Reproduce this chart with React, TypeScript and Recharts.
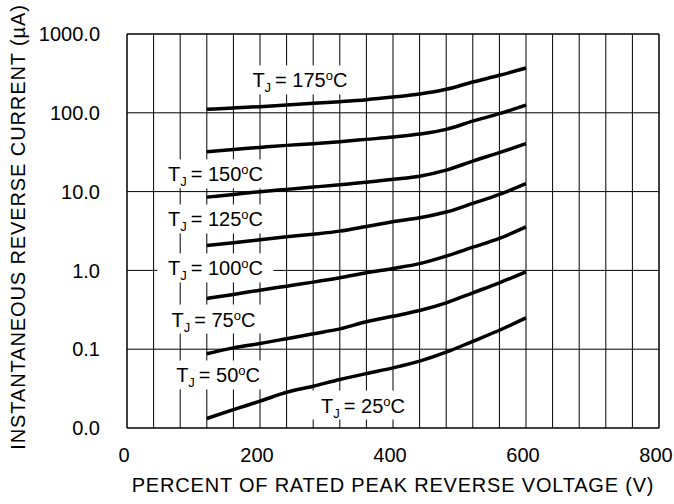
import { LineChart, Line, XAxis, YAxis, CartesianGrid, ReferenceLine, ReferenceDot } from "recharts";

const VOLTS = [120, 160, 200, 240, 280, 320, 360, 400, 440, 480, 520, 560, 600];

const T175 = [110.7, 114.9, 119.7, 125.4, 131.8, 138.6, 146.9, 158.5, 173, 198.6, 245.7, 299, 370];
const T150 = [32.1, 34.3, 36.4, 38.6, 40.6, 43, 46, 49.2, 53.7, 61.6, 78.5, 97.5, 125.4];
const T125 = [8.51, 9.21, 9.97, 10.67, 11.4, 12.2, 13.1, 14.3, 15.7, 18.7, 24.4, 31.2, 40.6];
const T100 = [2.07, 2.24, 2.45, 2.67, 2.88, 3.15, 3.61, 4.15, 4.66, 5.5, 7.08, 9.2, 12.6];
const T75 = [0.44, 0.495, 0.561, 0.631, 0.71, 0.807, 0.933, 1.06, 1.22, 1.52, 1.97, 2.55, 3.56];
const T50 = [0.0875, 0.104, 0.118, 0.136, 0.157, 0.181, 0.223, 0.262, 0.31, 0.388, 0.52, 0.697, 0.96];
const T25 = [0.0132, 0.0171, 0.0219, 0.0284, 0.0339, 0.0412, 0.0491, 0.058, 0.0705, 0.0916, 0.126, 0.174, 0.25];

const SERIES = ["t175", "t150", "t125", "t100", "t75", "t50", "t25"];

const X_MAX = 800;
const X_TICKS = [0, 200, 400, 600, 800];
const X_GRID = [0, 40, 80, 120, 160, 200, 240, 280, 320, 360, 400, 440, 480, 520, 560, 600, 640, 680, 720, 760, 800];
const Y_TICKS = [0.01, 0.1, 1, 10, 100, 1000];
const Y_TICK_LABELS = ["0.0", "0.1", "1.0", "10.0", "100.0", "1000.0"];

// curve labels: temperature, anchor (text centre / baseline) in data units
const LABEL_TEMPS = ["175", "150", "125", "100", "75", "50", "25"];
const LABEL_X = [260, 133, 133, 133, 130, 137, 355];
const LABEL_Y = [210, 13.5, 3.61, 0.863, 0.194, 0.0378, 0.0157];

const data = VOLTS.map((v, i) => ({
  v,
  t175: T175[i],
  t150: T150[i],
  t125: T125[i],
  t100: T100[i],
  t75: T75[i],
  t50: T50[i],
  t25: T25[i],
}));

const FONT = "'Liberation Sans', Arial, Helvetica, sans-serif";

const TempLabel = ({ cx, cy, temp }: { cx: number; cy: number; temp: string }) => {
  const w = temp.length === 3 ? 100 : 87;
  return (
    <g>
      <rect x={cx - w / 2 - 8} y={cy - 22} width={w + 16} height={29} fill="#fff" />
      <text x={cx} y={cy} textAnchor="middle" fontSize={20} fontFamily={FONT} fill="#000">
        <tspan>T</tspan>
        <tspan fontSize={13} dy={5}>J</tspan>
        <tspan dy={-5}>{"\u2009= " + temp}</tspan>
        <tspan fontSize={13} dy={-7}>o</tspan>
        <tspan dy={7}>C</tspan>
      </text>
    </g>
  );
};

const App = () => {
  return (
    <div style={{ position: "absolute", left: 0, top: 0, width: 674, height: 504, background: "#fff" }}>
      <LineChart width={674} height={504} data={data} margin={{ top: 34, right: 15, bottom: 0, left: 0 }}>
        <CartesianGrid
          stroke="#000"
          strokeWidth={1}
          verticalCoordinatesGenerator={(p: any) =>
            X_GRID.map((v) => p.offset.left + (v / X_MAX) * p.offset.width)
          }
        />
        <XAxis
          dataKey="v"
          type="number"
          domain={[0, X_MAX]}
          ticks={X_TICKS}
          height={76}
          tickLine={false}
          tickSize={0}
          tickMargin={20}
          axisLine={{ stroke: "#000" }}
          tick={{ fontSize: 20, fill: "#000", fontFamily: FONT, dx: -3 }}
          label={{
            value: "PERCENT OF RATED PEAK REVERSE VOLTAGE (V)",
            position: "insideBottom",
            offset: 12,
            style: { fontSize: 20, fill: "#000", fontFamily: FONT, letterSpacing: 0.8 },
          }}
        />
        <YAxis
          type="number"
          scale="log"
          domain={[0.01, 1000]}
          ticks={Y_TICKS}
          allowDataOverflow
          width={127}
          tickLine={false}
          tickSize={0}
          tickMargin={27}
          axisLine={{ stroke: "#000" }}
          tickFormatter={(v: number) => Y_TICK_LABELS[Y_TICKS.indexOf(v)] ?? String(v)}
          tick={{ fontSize: 20, fill: "#000", fontFamily: FONT }}
          label={{
            content: ({ viewBox }: any) => {
              const cy = viewBox.y + viewBox.height / 2 - 4;
              return (
                <text
                  x={25}
                  y={cy}
                  transform={`rotate(-90, 25, ${cy})`}
                  textAnchor="middle"
                  fontSize={20}
                  fontFamily={FONT}
                  fill="#000"
                  style={{ letterSpacing: 0.9 }}
                >
                  INSTANTANEOUS REVERSE CURRENT (µA)
                </text>
              );
            },
          }}
        />
        <ReferenceLine y={1000} stroke="#000" strokeWidth={1} ifOverflow="visible" />
        <ReferenceLine x={X_MAX} stroke="#000" strokeWidth={1} ifOverflow="visible" />
        {LABEL_TEMPS.map((t, i) => (
          <ReferenceDot
            key={t}
            x={LABEL_X[i]}
            y={LABEL_Y[i]}
            r={0}
            ifOverflow="visible"
            shape={(p: any) => <TempLabel cx={p.cx} cy={p.cy} temp={t} />}
          />
        ))}
        {SERIES.map((k) => (
          <Line
            key={k}
            dataKey={k}
            type="monotone"
            stroke="#000"
            strokeWidth={3.5}
            dot={false}
            activeDot={false}
            isAnimationActive={false}
          />
        ))}
      </LineChart>
    </div>
  );
};

export default App;
